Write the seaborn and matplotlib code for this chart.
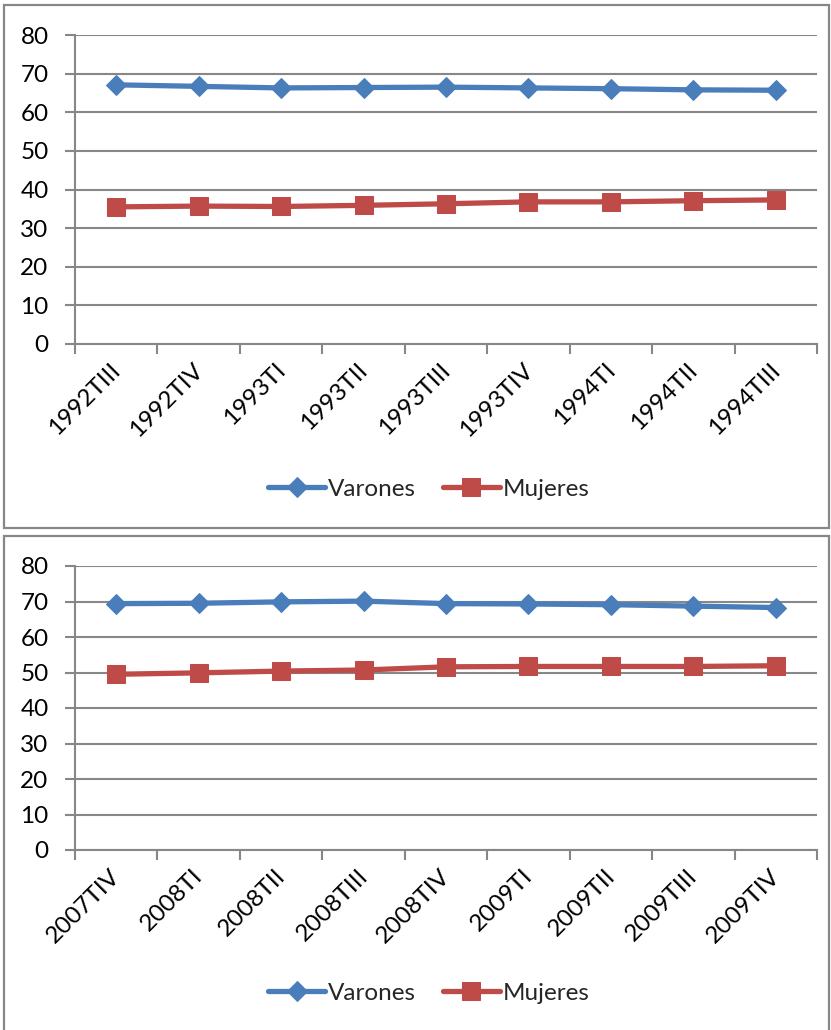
import matplotlib
matplotlib.use("Agg")
import matplotlib.pyplot as plt
import matplotlib.patches as mpatches
from matplotlib.transforms import ScaledTranslation
import seaborn as sns
import pandas as pd

# Tasas por trimestre, 1992-1994 y 2007-2009
periodos_a = ["1992TIII", "1992TIV", "1993TI", "1993TII", "1993TIII",
              "1993TIV", "1994TI", "1994TII", "1994TIII"]
varones_a = [67.1, 66.7, 66.3, 66.4, 66.5, 66.3, 66.1, 65.8, 65.7]
mujeres_a = [35.5, 35.7, 35.6, 35.9, 36.3, 36.8, 36.8, 37.1, 37.3]

periodos_b = ["2007TIV", "2008TI", "2008TII", "2008TIII", "2008TIV",
              "2009TI", "2009TII", "2009TIII", "2009TIV"]
varones_b = [69.4, 69.5, 69.9, 70.1, 69.4, 69.3, 69.1, 68.7, 68.3]
mujeres_b = [49.5, 49.9, 50.4, 50.7, 51.6, 51.7, 51.7, 51.7, 51.9]

y_ticks = [0, 10, 20, 30, 40, 50, 60, 70, 80]

AZUL = "#4A7EBB"
ROJO = "#BE4B48"
GRIS = "#878787"
FS = 17.5

sns.set_theme(style="white")
plt.rcParams["font.family"] = ["Lato", "DejaVu Sans"]

W, H = 831, 1030
fig = plt.figure(figsize=(W / 100, H / 100), dpi=100)


def px_rect(left, top, right, bottom):
    return [left / W, 1 - bottom / H, (right - left) / W, (bottom - top) / H]


# Marcos de cada gráfico
for (l, t, r, b) in [(4, 5, 829, 528), (4, 536, 829, 1040)]:
    fig.patches.append(mpatches.Rectangle((l / W, 1 - b / H), (r - l) / W, (b - t) / H,
                                          transform=fig.transFigure, fill=False,
                                          edgecolor=GRIS, linewidth=1.6, zorder=0))


def panel(rect, periodos, varones, mujeres, legend_y):
    ax = fig.add_axes(px_rect(*rect))
    df = pd.DataFrame({"periodo": periodos, "Varones": varones, "Mujeres": mujeres})
    sns.lineplot(data=df, x="periodo", y="Varones", ax=ax, color=AZUL, linewidth=3.8,
                 marker="D", markersize=10.5, markeredgecolor=AZUL, label="Varones",
                 sort=False)
    sns.lineplot(data=df, x="periodo", y="Mujeres", ax=ax, color=ROJO, linewidth=3.8,
                 marker="s", markersize=13, markeredgecolor=ROJO, label="Mujeres",
                 sort=False)
    n = len(periodos)
    ax.set_xlim(-0.5, n - 0.5)
    ax.set_ylim(0, 80)
    ax.set_yticks(y_ticks)
    ax.set_yticklabels([str(v) for v in y_ticks], fontsize=FS, color="black")
    ax.set_xticks(range(n))
    ax.set_xticks([i - 0.5 for i in range(n + 1)], minor=True)
    ax.tick_params(axis="x", which="major", length=0, pad=16.5)
    ax.tick_params(axis="x", which="minor", length=7, width=1.5, color=GRIS,
                   direction="out", bottom=True)
    ax.tick_params(axis="y", length=7, width=1.5, color=GRIS, direction="out",
                   left=True, pad=12)
    ax.set_xticklabels(periodos, rotation=45, ha="right", va="center",
                       rotation_mode="anchor", fontsize=FS, color="black")
    off = ScaledTranslation(1 / 100, 0, fig.dpi_scale_trans)
    for lab in ax.get_xticklabels():
        lab.set_transform(lab.get_transform() + off)
    ax.set_xlabel("")
    ax.set_ylabel("")
    ax.grid(axis="y", color=GRIS, linewidth=1.5)
    ax.grid(axis="x", visible=False)
    for s in ["top", "right"]:
        ax.spines[s].set_visible(False)
    for s in ["left", "bottom"]:
        ax.spines[s].set_color(GRIS)
        ax.spines[s].set_linewidth(1.5)
    ax.set_axisbelow(True)
    ax.set_facecolor("none")
    ax.legend(loc="center", bbox_to_anchor=(429 / W, 1 - legend_y / H),
              bbox_transform=fig.transFigure, ncol=2, frameon=False, fontsize=FS,
              handlelength=2.35, handletextpad=0.12, columnspacing=1.1)
    return ax


panel((75, 35, 817, 344), periodos_a, varones_a, mujeres_a, 489)
panel((75, 566, 817, 850), periodos_b, varones_b, mujeres_b, 993)

fig.savefig("out.png", dpi=100)
